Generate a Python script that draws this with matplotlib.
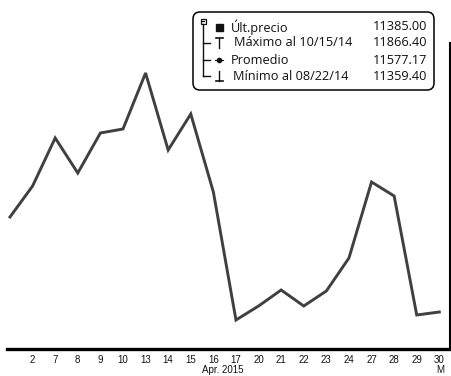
import matplotlib
matplotlib.use("Agg")
import matplotlib.pyplot as plt
from matplotlib.patches import FancyBboxPatch, Rectangle

# closing prices, April 2015 trading days
days = ['1', '2', '7', '8', '9', '10', '13', '14', '15', '16', '17',
        '20', '21', '22', '23', '24', '27', '28', '29', '30']
prices = [11480, 11511, 11559, 11524, 11564, 11568, 11624, 11547, 11583, 11505,
          11377, 11391, 11407, 11391, 11406, 11439, 11515, 11501, 11382, 11385]

stat_labels = ['Últ.precio', 'Máximo al 10/15/14', 'Promedio', 'Mínimo al 08/22/14']
stat_values = ['11385.00', '11866.40', '11577.17', '11359.40']

W, H = 451, 376
fig = plt.figure(figsize=(W / 100, H / 100), dpi=100)
ax = fig.add_axes([7 / W, 1 - 348.5 / H, 442.5 / W, (348.5 - 43) / H])

x = list(range(len(prices)))
ax.plot(x, prices, color='#404040', lw=2.1, solid_joinstyle='miter')
ax.set_xlim(-0.133, 19.45)
ax.set_ylim(11348.5, 11654)

for s in ['top', 'left']:
    ax.spines[s].set_visible(False)
ax.spines['bottom'].set_linewidth(2.4)
ax.spines['right'].set_linewidth(1.5)
ax.set_yticks([])
ax.set_xticks(x[1:])
ax.set_xticklabels(days[1:], fontsize=7, family='Liberation Sans', color='#111111')
ax.tick_params(axis='x', length=0, pad=4.5)

fig.text(223 / W, 1 - 370 / H, 'Apr. 2015', ha='center', va='center',
         fontsize=7, family='Liberation Sans', color='#111111')
fig.text(440 / W, 1 - 370 / H, 'M', ha='center', va='center',
         fontsize=7, family='Liberation Sans', color='#111111')

# statistics box in figure pixel coordinates
bx = fig.add_axes([0, 0, 1, 1], facecolor='none')
bx.set_xlim(0, W)
bx.set_ylim(H, 0)
bx.axis('off')
bx.add_patch(FancyBboxPatch((193, 12), 241, 78, boxstyle='round,pad=0,rounding_size=7',
                            fc='white', ec='black', lw=1.1))

rows_y = [27, 43, 60, 76]
k = '#111111'
# tree
bx.add_patch(Rectangle((200.5, 18.5), 5, 5, fc='white', ec=k, lw=0.9))
bx.plot([201.8, 204.2], [21, 21], color=k, lw=0.9)
bx.plot([203, 203], [23.5, rows_y[3]], color=k, lw=1.0)
for yy in rows_y[1:]:
    bx.plot([203, 210], [yy, yy], color=k, lw=1.0)
# markers
bx.add_patch(Rectangle((215.5, 23.5), 7, 7, fc=k, ec=k))
bx.plot([219, 219], [rows_y[1] - 5, rows_y[1] + 5], color=k, lw=1.0)
bx.plot([215.5, 222.5], [rows_y[1] - 5, rows_y[1] - 5], color=k, lw=1.2)
bx.plot([215, 223], [rows_y[2], rows_y[2]], color=k, lw=0.8)
bx.plot([219], [rows_y[2]], marker='o', ms=3, color=k)
bx.plot([219, 219], [rows_y[3] - 5, rows_y[3] + 5], color=k, lw=1.0)
bx.plot([215.5, 222.5], [rows_y[3] + 5, rows_y[3] + 5], color=k, lw=1.2)

text_x = [231, 234, 231, 233]
for i in range(4):
    bx.text(text_x[i], rows_y[i], stat_labels[i], ha='left', va='center',
            fontsize=9.2, family='Open Sans', color='#111111')
    bx.text(427, rows_y[i], stat_values[i], ha='right', va='center',
            fontsize=9.2, family='Open Sans', color='#111111')

fig.savefig('out.png', dpi=100)
